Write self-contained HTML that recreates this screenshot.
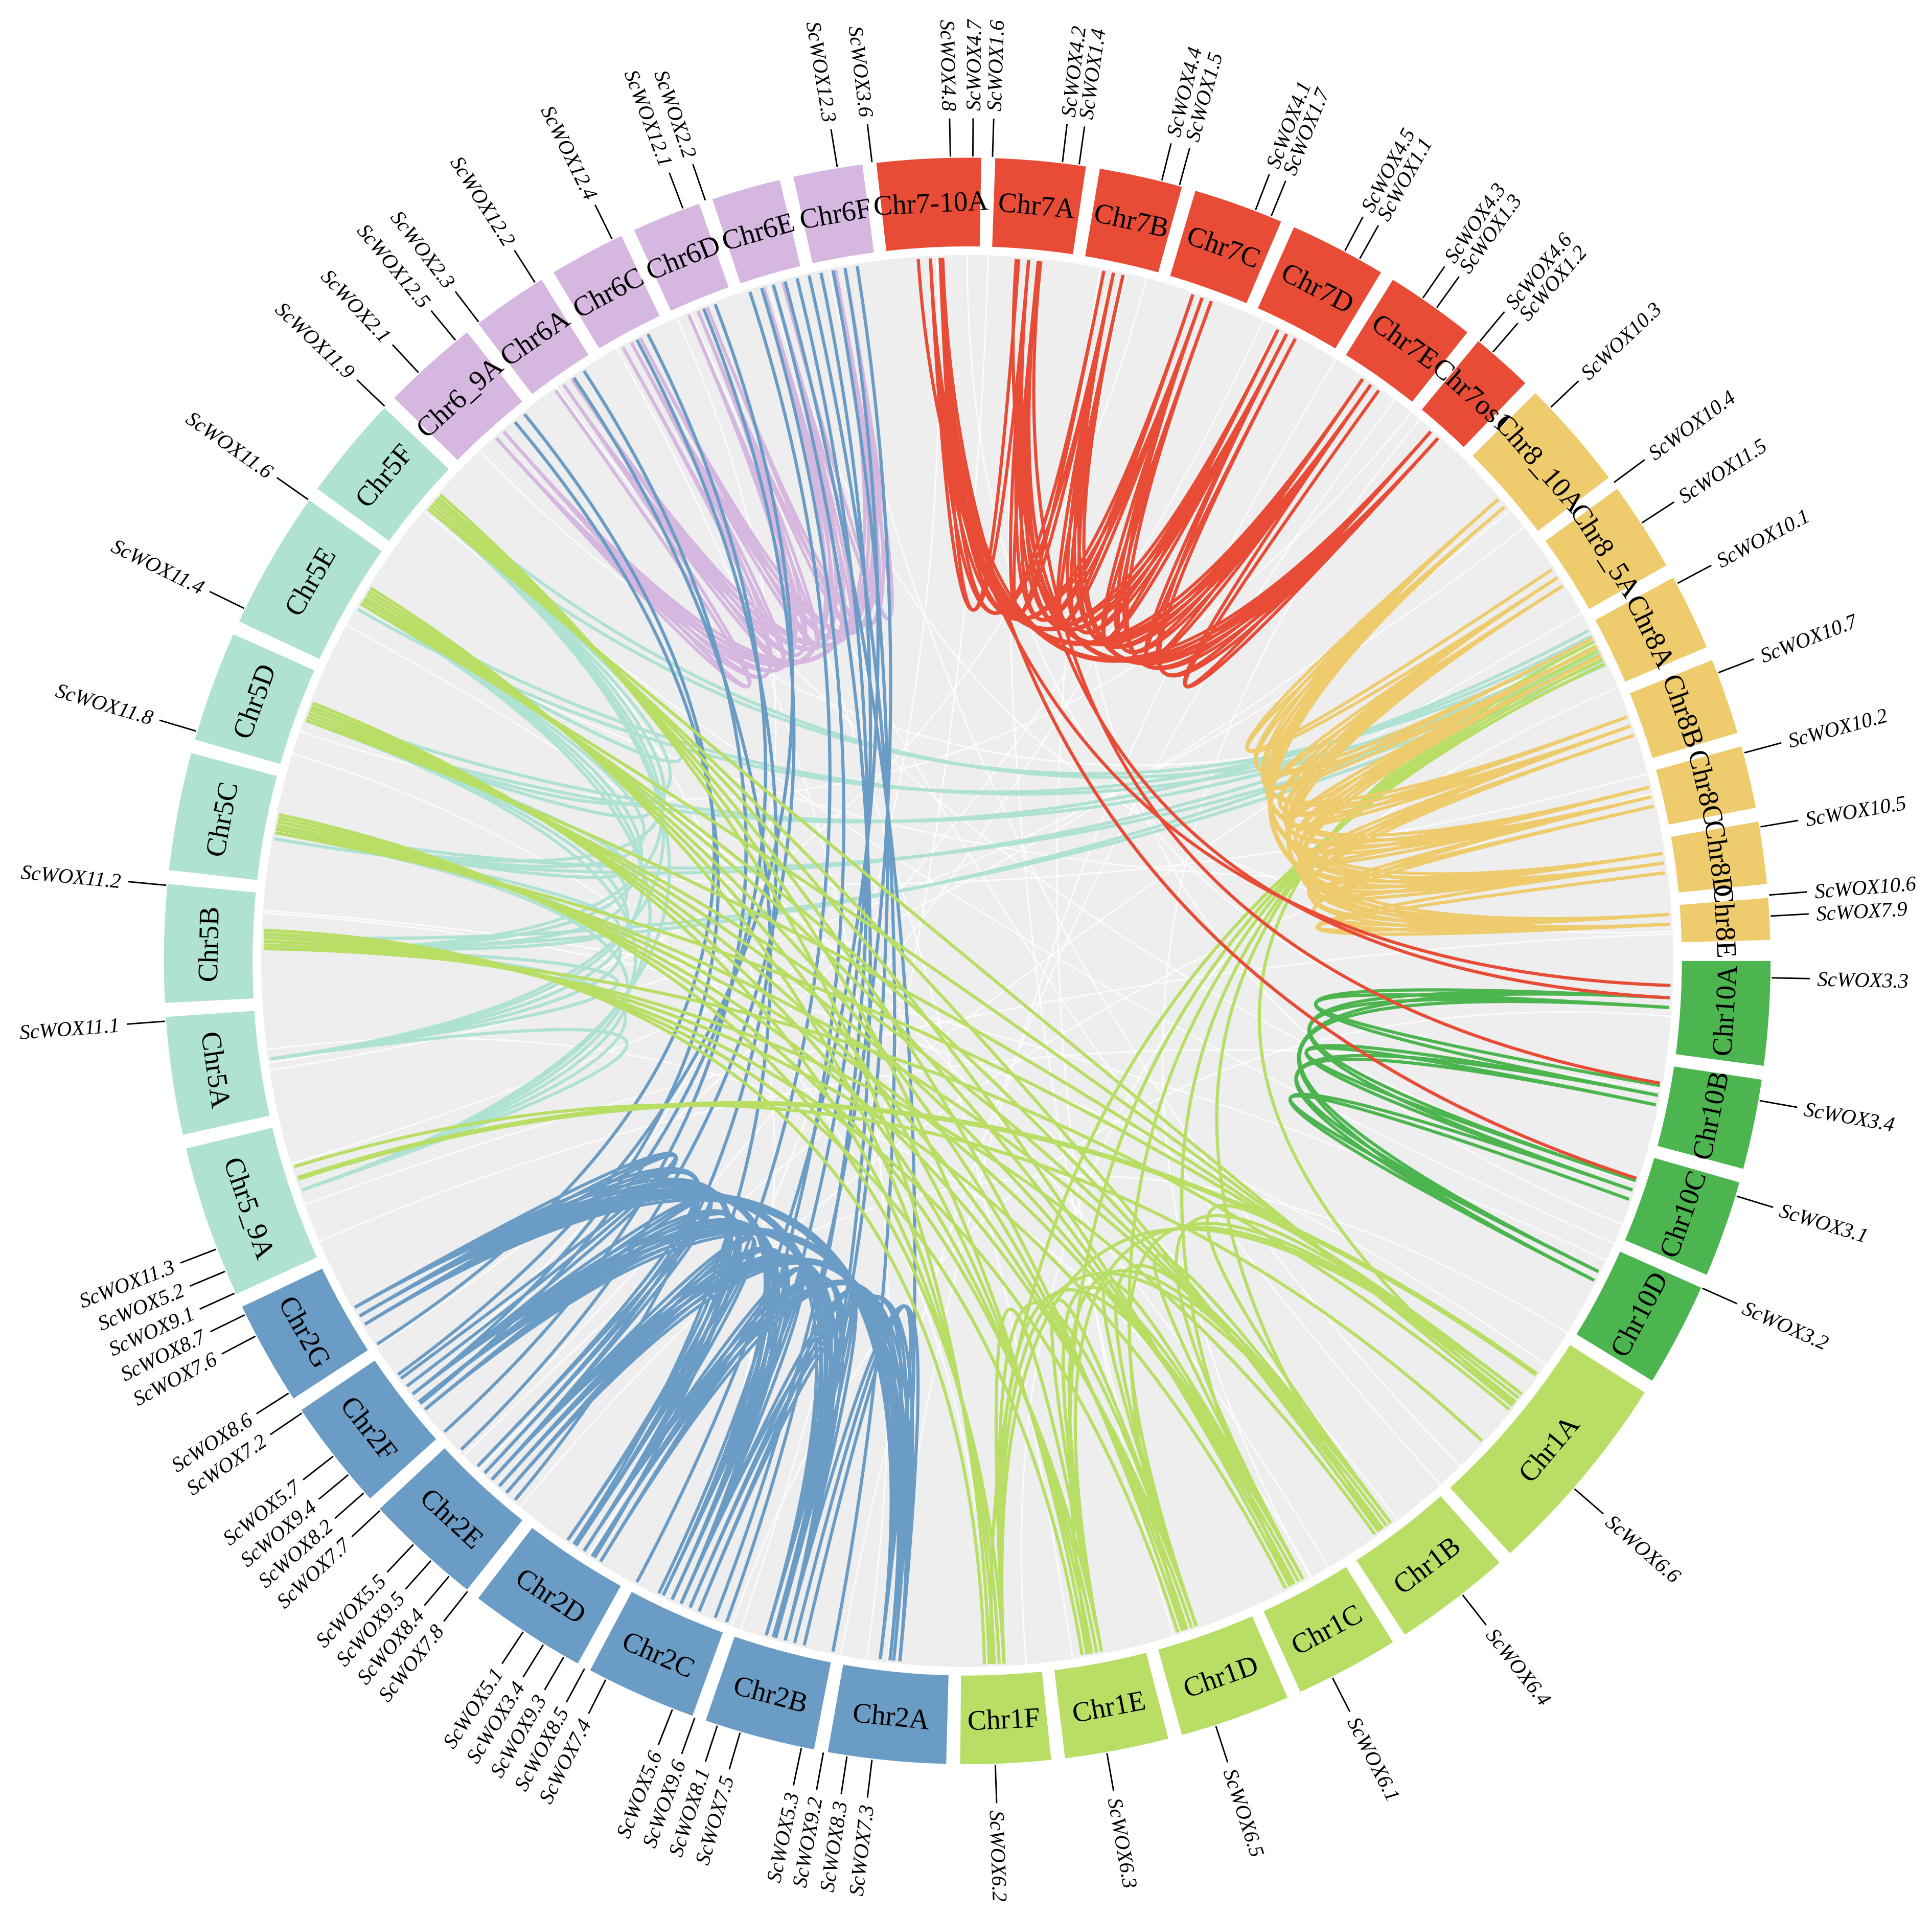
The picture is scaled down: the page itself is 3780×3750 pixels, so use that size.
<!DOCTYPE html>
<html><head><meta charset="utf-8">
<style>html,body{margin:0;padding:0;background:#fff;}svg{display:block;}</style>
</head><body>
<svg id="s" xmlns="http://www.w3.org/2000/svg" width="3780" height="3750" viewBox="0 0 1568 1556" preserveAspectRatio="none"></svg>
<script>
const S=document.getElementById('s');
const cx=785,cy=780;
function pt(a,r){const t=a*Math.PI/180;return [cx+r*Math.sin(t),cy-r*Math.cos(t)];}
let out='';
out+=`<circle cx="${cx}" cy="${cy}" r="573" fill="#eeeeee"/>`;
for(let i=0;i<40;i++){const a=(i*37.3)%360,b=(a+100+(i*53)%160)%360;const p=pt(a,573),q=pt(b,573);
out+=`<path d="M${p[0]},${p[1]} Q${cx},${cy} ${q[0]},${q[1]}" stroke="#ffffff" stroke-width="1.2" fill="none" opacity="0.8"/>`;}
const C={r:'#e84c36',y:'#eecb6c',g:'#4db54f',l:'#b8de66',b:'#6b9cc5',m:'#b0e2d3',p:'#d5b7e0'};
function link(a,b,col,w){const p=pt(a,571),q=pt(b,571);out+=`<path d="M${p[0].toFixed(1)},${p[1].toFixed(1)} Q${cx},${cy} ${q[0].toFixed(1)},${q[1].toFixed(1)}" stroke="${col}" stroke-width="${w||2.6}" fill="none"/>`;}
function pairs(arr,col,n,w){for(let i=0;i<arr.length;i++)for(let j=i+1;j<arr.length;j++)for(let k=0;k<n;k++)link(arr[i]+k*0.8,arr[j]-k*0.8,col,w);}
const c5=[251,262,271,280.5,290,300.5,310];
pairs(c5,C.m,1);
[290,300,310,280,271].forEach((a,i)=>{link(a,62+i*0.5,C.m);link(a+1,63.5+i*0.4,C.m);});
const c6=[318,325,331.5,337.5,344,350];
pairs(c6,C.p,2);
const c2=[185.5,195,204,213,222.5,232,240.5];
pairs(c2,C.b,3);
[345,347,349,351,343].forEach((a,i)=>{link(a,186+i*5,C.b);link(a-1,196+i*4,C.b);});
[326,332,338,320].forEach((a,i)=>{link(a,214+i*6,C.b);link(a+1,228+i*3,C.b);});
const c1=[128,143,151.5,161,169,177];
pairs(c1,C.l,1);
c1.forEach((a,i)=>{[280.5,290,300.5,310,271].forEach((b,j)=>{link(a+j*0.4,b+i*0.3,C.l);});link(a+1,63+i*0.4,C.l);});
link(252,126,C.l,4);link(253,133,C.l);
const c8=[49,57,63.5,70.5,76.5,82,87];
pairs(c8,C.y,2);
const c10=[93,101,109,117];
pairs(c10,C.g,2);
const c7=[-3,5,12,19.5,27,35,42];
pairs(c7,C.r,2);
link(-4,92,C.r);link(-2,108,C.r);link(4,93,C.r);link(6,100,C.r);
const chr=[['Chr7-10A',-6.5,1,'r'],['Chr7A',2,8.5,'r'],['Chr7B',9.5,15.5,'r'],['Chr7C',16.5,23,'r'],['Chr7D',24,31,'r'],['Chr7E',32,38.5,'r'],['Chr7os1',39.5,44,'r'],
['Chr8_10A',45,53,'y'],['Chr8_5A',54,60.5,'y'],['Chr8A',61.5,67,'y'],['Chr8B',68,73.5,'y'],['Chr8C',74.5,79,'y'],['Chr8D',80,84.5,'y'],['Chr8E',85.5,88.5,'y'],
['Chr10A',90,97.5,'g'],['Chr10B',98.5,105,'g'],['Chr10C',106,113,'g'],['Chr10D',114,121.5,'g'],
['Chr1A',122.5,137.5,'l'],['Chr1B',138.5,147,'l'],['Chr1C',148,155.5,'l'],['Chr1D',156.5,164.5,'l'],['Chr1E',165.5,173,'l'],['Chr1F',174,180.5,'l'],
['Chr2A',181.5,190,'b'],['Chr2B',191,199,'b'],['Chr2C',200,208,'b'],['Chr2D',209,217.5,'b'],['Chr2E',218.5,227,'b'],['Chr2F',228,236,'b'],['Chr2G',237,244.5,'b'],
['Chr5_9A',245.5,256.5,'m'],['Chr5A',257.5,266,'m'],['Chr5B',267,275.5,'m'],['Chr5C',276.5,285,'m'],['Chr5D',286,294,'m'],['Chr5E',295,305,'m'],['Chr5F',306,313.5,'m'],
['Chr6_9A',314.5,321.5,'p'],['Chr6A',322.5,328,'p'],['Chr6C',329,334.5,'p'],['Chr6D',335.5,340.5,'p'],['Chr6E',341.5,346.5,'p'],['Chr6F',347.5,352.5,'p']];
chr.forEach(([n,a,b,c])=>{const R1=580,R2=652;const p1=pt(a,R2),p2=pt(b,R2),p3=pt(b,R1),p4=pt(a,R1);
out+=`<path d="M${p1} A${R2},${R2} 0 0 1 ${p2} L${p3} A${R1},${R1} 0 0 0 ${p4}Z" fill="${C[c]}"/>`;
const m=(a+b)/2,q=pt(m,616);let rot=m<90?m:(m<=270?m-180:m-360);
out+=`<text x="${q[0]}" y="${q[1]}" transform="rotate(${rot} ${q[0]} ${q[1]})" text-anchor="middle" dominant-baseline="central" font-family="Liberation Serif, serif" font-size="23" fill="#000">${n}</text>`;});
const G=[['ScWOX4.7',0.4],['ScWOX1.6',1.8],['ScWOX4.2',6.8],['ScWOX1.4',8],['ScWOX4.4',14],['ScWOX1.5',15.3],['ScWOX4.1',21],['ScWOX1.7',22.2],['ScWOX4.5',28],['ScWOX1.1',29.2],['ScWOX4.3',34.5],['ScWOX1.3',35.7],['ScWOX4.6',39.6],['ScWOX1.2',40.8],
['ScWOX10.3',46.5],['ScWOX10.4',53.5],['ScWOX11.5',57],['ScWOX10.1',62],['ScWOX10.7',69],['ScWOX10.2',75],['ScWOX10.5',80.4],['ScWOX10.6',85.3],['ScWOX7.9',86.8],['ScWOX3.3',91.2],['ScWOX3.4',100],['ScWOX3.1',107],['ScWOX3.2',114],
['ScWOX6.6',131],['ScWOX6.4',142],['ScWOX6.1',153],['ScWOX6.5',162],['ScWOX6.3',170],['ScWOX6.2',178],
['ScWOX5.3',191.9],['ScWOX9.2',190.3],['ScWOX8.3',188.6],['ScWOX7.3',186.8],
['ScWOX5.6',201.5],['ScWOX9.6',199.8],['ScWOX8.1',198.1],['ScWOX7.5',196.4],
['ScWOX5.1',213.5],['ScWOX3.4',211.8],['ScWOX9.3',210.1],['ScWOX8.5',208.4],['ScWOX7.4',206.7],
['ScWOX5.5',223.5],['ScWOX9.5',221.8],['ScWOX8.4',220.1],['ScWOX7.8',218.4],
['ScWOX5.7',232],['ScWOX9.4',230.3],['ScWOX8.2',228.6],['ScWOX7.7',226.9],
['ScWOX8.6',237.5],['ScWOX7.2',235.8],
['ScWOX11.3',249],['ScWOX5.2',247.3],['ScWOX9.1',245.6],['ScWOX8.7',243.9],['ScWOX7.6',242.2],
['ScWOX11.1',265.7],['ScWOX11.2',275.4],['ScWOX11.8',286.6],['ScWOX11.4',296],['ScWOX11.6',305],['ScWOX11.9',313.6],['ScWOX2.1',317],['ScWOX12.5',320.5],['ScWOX2.3',322.6],['ScWOX12.2',327.5],['ScWOX12.4',333.8],['ScWOX12.1',339.3],['ScWOX2.2',341],['ScWOX12.3',350.7],['ScWOX3.6',353.2],['ScWOX4.8',358.8]];
G.forEach(([n,a])=>{const p=pt(a,653),q=pt(a,684),t=pt(a,690);
out+=`<line x1="${p[0]}" y1="${p[1]}" x2="${q[0]}" y2="${q[1]}" stroke="#000" stroke-width="1.2"/>`;
const right=((a%360)+360)%360<180;const rot=right?a-90:a-270;
out+=`<text x="${t[0]}" y="${t[1]}" transform="rotate(${rot} ${t[0]} ${t[1]})" text-anchor="${right?'start':'end'}" dominant-baseline="central" font-family="Liberation Serif, serif" font-style="italic" font-size="17" fill="#000">${n}</text>`;});
S.innerHTML=out;
</script>
</body></html>
